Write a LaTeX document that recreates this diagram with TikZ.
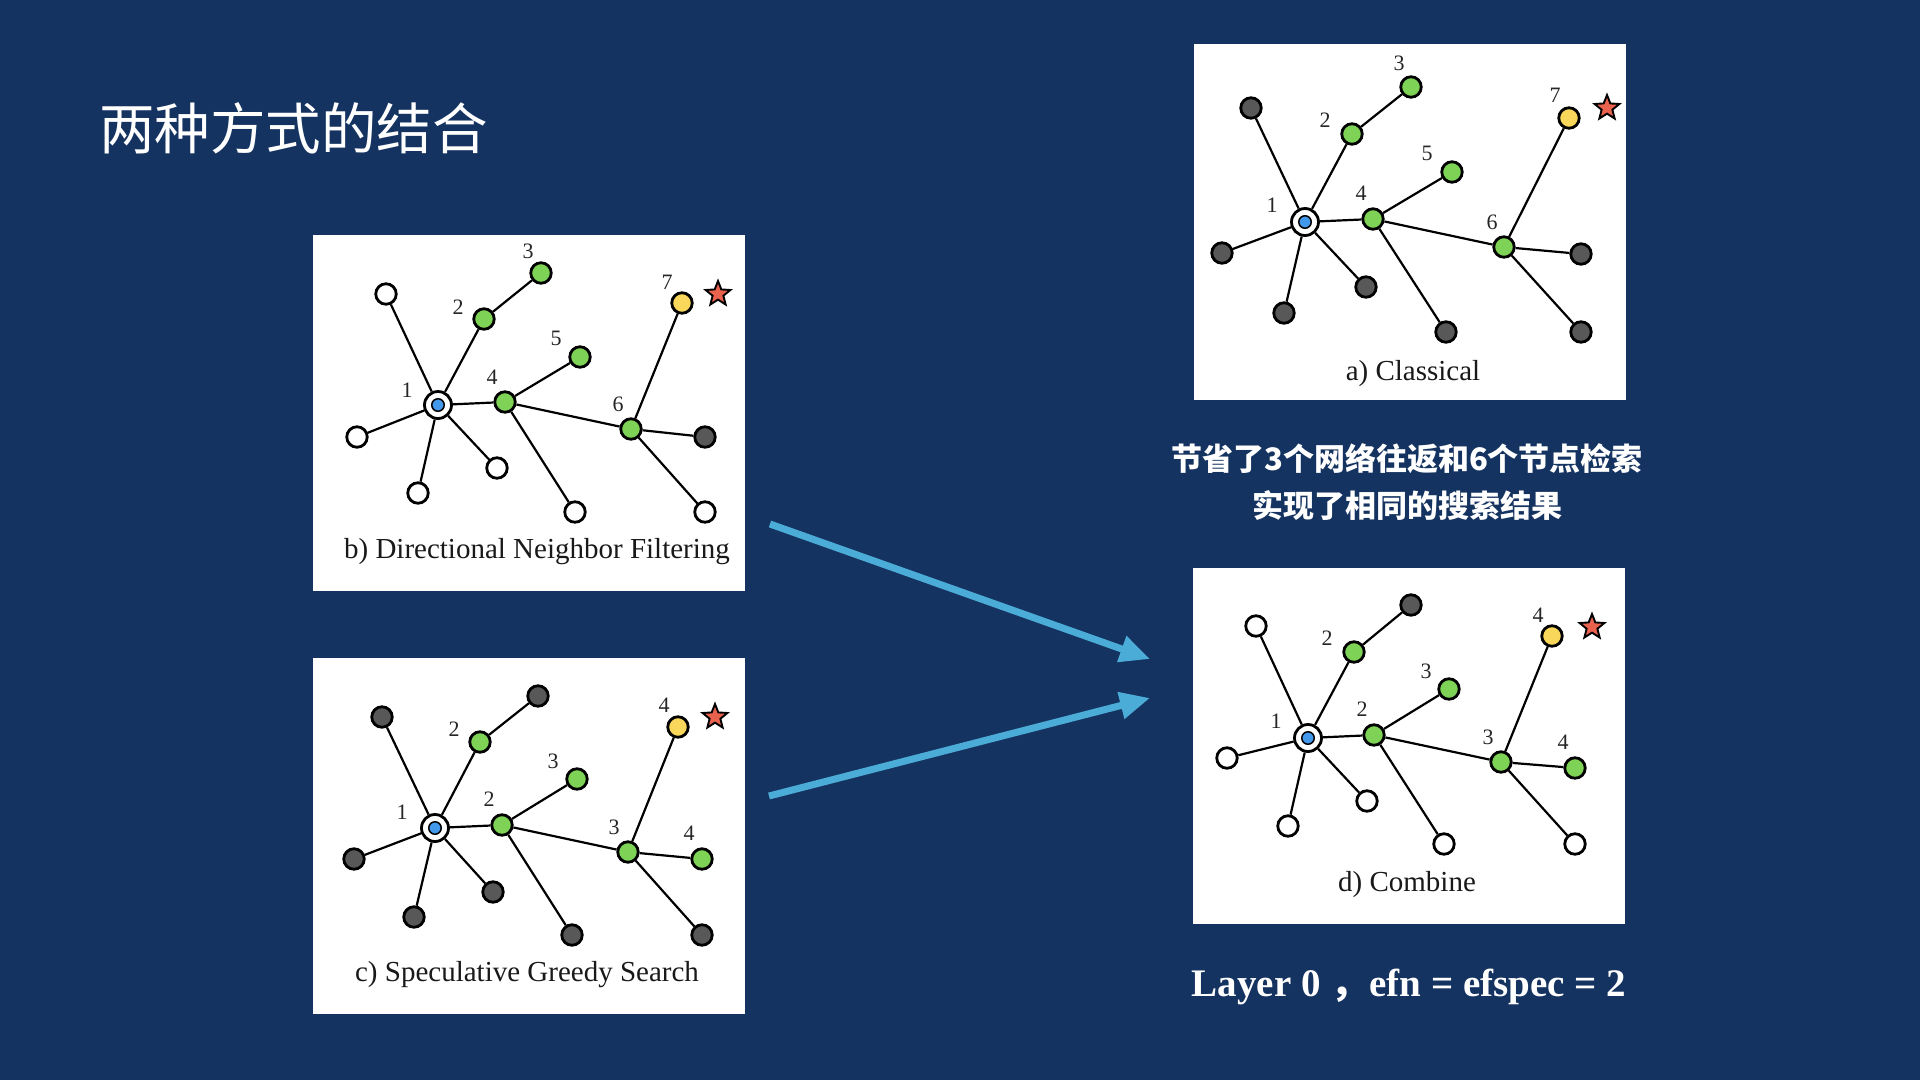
\documentclass[tikz,border=0pt]{standalone}
\usepackage{fontspec}
\setmainfont{Liberation Serif}
\newfontfamily\cjk{Noto Sans CJK SC}
\usetikzlibrary{arrows.meta,shapes.geometric}
\definecolor{bg}{RGB}{21,51,96}
\definecolor{ngreen}{RGB}{126,211,86}
\definecolor{nyellow}{RGB}{249,215,90}
\definecolor{nblue}{RGB}{66,153,235}
\definecolor{ndark}{RGB}{88,88,88}
\definecolor{nred}{RGB}{232,98,78}
\definecolor{arrowc}{RGB}{75,172,216}
\newcommand{\graphedges}[1]{%
  \draw[lnk] (#1n1) -- (#1tl);
  \draw[lnk] (#1n1) -- (#1n2);
  \draw[lnk] (#1n2) -- (#1n3);
  \draw[lnk] (#1n1) -- (#1l);
  \draw[lnk] (#1n1) -- (#1bt);
  \draw[lnk] (#1n1) -- (#1lr);
  \draw[lnk] (#1n1) -- (#1n4);
  \draw[lnk] (#1n4) -- (#1n5);
  \draw[lnk] (#1n4) -- (#1b4);
  \draw[lnk] (#1n4) -- (#1n6);
  \draw[lnk] (#1n6) -- (#1n7);
  \draw[lnk] (#1n6) -- (#1r6);
  \draw[lnk] (#1n6) -- (#1b6);
}
\begin{document}
\begin{tikzpicture}[x=1pt,y=-1pt,
  vx/.style={circle,draw=black,line width=2.8pt,minimum size=20.5pt,inner sep=0pt},
  wn/.style={vx,fill=white},
  dn/.style={vx,fill=ndark},
  gn/.style={vx,fill=ngreen},
  yn/.style={vx,fill=nyellow},
  src/.style={circle,draw=black,line width=2.8pt,fill=white,minimum size=27pt,inner sep=0pt},
  srcin/.style={circle,draw=black,line width=1.5pt,fill=nblue,minimum size=12.5pt,inner sep=0pt},
  goal/.style={star,star points=5,star point ratio=2.3,draw=black,line width=1.9pt,fill=nred,minimum size=26pt,inner sep=0pt},
  lnk/.style={draw=black,line width=2.2pt},
  num/.style={font=\fontsize{22}{22}\selectfont,text=black!85,inner sep=0pt},
  captxt/.style={font=\fontsize{29}{30}\selectfont,text=black!90,inner sep=0pt,anchor=base},
  panel/.style={fill=white,draw=none,minimum width=432pt,minimum height=356pt,anchor=north west,inner sep=0pt},
  arr/.style={draw=arrowc,line width=7pt,-{Triangle[length=30pt,width=26pt]}}
]
\fill[bg] (0,0) rectangle (1920,1080);
\useasboundingbox (0,0) rectangle (1920,1080);

% title
\node[anchor=west,text=white,inner sep=0pt,font=\cjk\fontsize{55.5}{60}\selectfont] (title) at (99,128) {两种方式的结合};

% panels
\node[panel] (boxa) at (1194,44) {};
\node[panel] (boxb) at (313,235) {};
\node[panel] (boxc) at (313,658) {};
\node[panel] (boxd) at (1193,568) {};

% ---------- panel a ----------
\begin{scope}[shift={(1194,44)}]
\node[src] (an1) at (111,178) {};
\node[srcin] (an1in) at (111,178) {};
\node[gn] (an2) at (158,90) {};
\node[gn] (an3) at (217,43) {};
\node[dn] (atl) at (57,64) {};
\node[dn] (al) at (28,209) {};
\node[dn] (abt) at (90,269) {};
\node[dn] (alr) at (172,243) {};
\node[gn] (an4) at (179,175) {};
\node[gn] (an5) at (258,128) {};
\node[dn] (ab4) at (252,288) {};
\node[gn] (an6) at (310,203) {};
\node[yn] (an7) at (375,74) {};
\node[goal] (astar) at (413,64) {};
\node[dn] (ar6) at (387,210) {};
\node[dn] (ab6) at (387,288) {};
\graphedges{a}
\node[num] (al3) at (205,19) {3};
\node[num] (al2) at (131,76) {2};
\node[num] (al1) at (78,161) {1};
\node[num] (al4) at (167,149) {4};
\node[num] (al5) at (233,109) {5};
\node[num] (al6) at (298,178) {6};
\node[num] (al7) at (361,51) {7};
\node[captxt] (acap) at (219,336) {a) Classical};
\end{scope}

% ---------- panel b ----------
\begin{scope}[shift={(313,235)}]
\node[src] (bn1) at (125,170) {};
\node[srcin] (bn1in) at (125,170) {};
\node[gn] (bn2) at (171,84) {};
\node[gn] (bn3) at (228,38) {};
\node[wn] (btl) at (73,59) {};
\node[wn] (bl) at (44,202) {};
\node[wn] (bbt) at (105,258) {};
\node[wn] (blr) at (184,233) {};
\node[gn] (bn4) at (192,167) {};
\node[gn] (bn5) at (267,122) {};
\node[wn] (bb4) at (262,277) {};
\node[gn] (bn6) at (318,194) {};
\node[yn] (bn7) at (369,68) {};
\node[goal] (bstar) at (405,59) {};
\node[dn] (br6) at (392,202) {};
\node[wn] (bb6) at (392,277) {};
\graphedges{b}
\node[num] (bl3) at (215,16) {3};
\node[num] (bl2) at (145,72) {2};
\node[num] (bl1) at (94,155) {1};
\node[num] (bl4) at (179,142) {4};
\node[num] (bl5) at (243,103) {5};
\node[num] (bl6) at (305,169) {6};
\node[num] (bl7) at (354,47) {7};
\node[captxt] (bcap) at (224,323) {b) Directional Neighbor Filtering};
\end{scope}

% ---------- panel c ----------
\begin{scope}[shift={(313,658)}]
\node[src] (cn1) at (122,170) {};
\node[srcin] (cn1in) at (122,170) {};
\node[gn] (cn2) at (167,84) {};
\node[dn] (cn3) at (225,38) {};
\node[dn] (ctl) at (69,59) {};
\node[dn] (cl) at (41,201) {};
\node[dn] (cbt) at (101,259) {};
\node[dn] (clr) at (180,234) {};
\node[gn] (cn4) at (189,167) {};
\node[gn] (cn5) at (264,121) {};
\node[dn] (cb4) at (259,277) {};
\node[gn] (cn6) at (315,194) {};
\node[yn] (cn7) at (365,69) {};
\node[goal] (cstar) at (402,59) {};
\node[gn] (cr6) at (389,201) {};
\node[dn] (cb6) at (389,277) {};
\graphedges{c}
\node[num] (cl2a) at (141,71) {2};
\node[num] (cl1) at (89,154) {1};
\node[num] (cl3a) at (240,103) {3};
\node[num] (cl2b) at (176,141) {2};
\node[num] (cl3b) at (301,169) {3};
\node[num] (cl4a) at (376,175) {4};
\node[num] (cl4b) at (351,47) {4};
\node[captxt] (ccap) at (214,323) {c) Speculative Greedy Search};
\end{scope}

% ---------- panel d ----------
\begin{scope}[shift={(1193,568)}]
\node[src] (dn1) at (115,170) {};
\node[srcin] (dn1in) at (115,170) {};
\node[gn] (dn2) at (161,84) {};
\node[dn] (dn3) at (218,37) {};
\node[wn] (dtl) at (63,58) {};
\node[wn] (dl) at (34,190) {};
\node[wn] (dbt) at (95,258) {};
\node[wn] (dlr) at (174,233) {};
\node[gn] (dn4) at (181,167) {};
\node[gn] (dn5) at (256,121) {};
\node[wn] (db4) at (251,276) {};
\node[gn] (dn6) at (308,194) {};
\node[yn] (dn7) at (359,68) {};
\node[goal] (dstar) at (399,59) {};
\node[gn] (dr6) at (382,200) {};
\node[wn] (db6) at (382,276) {};
\graphedges{d}
\node[num] (dl2a) at (134,70) {2};
\node[num] (dl1) at (83,153) {1};
\node[num] (dl3a) at (233,103) {3};
\node[num] (dl2b) at (169,141) {2};
\node[num] (dl3b) at (295,169) {3};
\node[num] (dl4a) at (370,174) {4};
\node[num] (dl4b) at (345,47) {4};
\node[captxt] (dcap) at (214,323) {d) Combine};
\end{scope}

% texts on the right
\node[align=center,text=white,inner sep=0pt,font=\cjk\bfseries\fontsize{31}{47}\selectfont] (note) at (1407,482) {节省了3个网络往返和6个节点检索\\实现了相同的搜索结果};
\node[anchor=base,text=white,inner sep=0pt,font=\bfseries\fontsize{39}{44}\selectfont] (layer) at (1409,996) {Layer 0 {\cjk ，}efn = efspec = 2};

% arrows
\coordinate (a1s) at (770,524);
\coordinate (a1e) at (1150,659);
\coordinate (a2s) at (769,796);
\coordinate (a2e) at (1150,698);
\draw[arr] (a1s) -- (a1e);
\draw[arr] (a2s) -- (a2e);
\end{tikzpicture}
\end{document}
